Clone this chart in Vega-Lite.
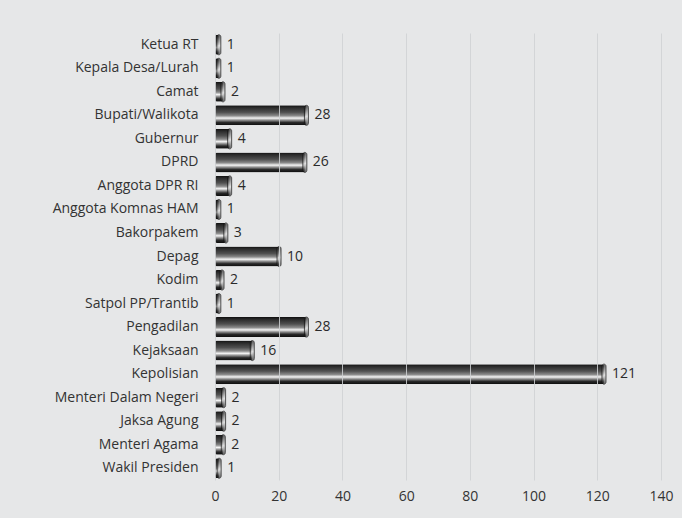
{
  "$schema": "https://vega.github.io/schema/vega-lite/v6.json",
  "width": 446,
  "height": 447,
  "autosize": {"type": "none"},
  "padding": {"left": 215, "top": 33, "right": 21, "bottom": 38},
  "background": "#e6e7e8",
  "config": {"view": {"stroke": null}, "font": "Open Sans"},
  "data": {
    "values": [
      {"lembaga": "Ketua RT", "jumlah": 1, "panjang": 1.2},
      {"lembaga": "Kepala Desa/Lurah", "jumlah": 1, "panjang": 1.2},
      {"lembaga": "Camat", "jumlah": 2, "panjang": 2.5},
      {"lembaga": "Bupati/Walikota", "jumlah": 28, "panjang": 28.7},
      {"lembaga": "Gubernur", "jumlah": 4, "panjang": 4.6},
      {"lembaga": "DPRD", "jumlah": 26, "panjang": 28.2},
      {"lembaga": "Anggota DPR RI", "jumlah": 4, "panjang": 4.6},
      {"lembaga": "Anggota Komnas HAM", "jumlah": 1, "panjang": 1.2},
      {"lembaga": "Bakorpakem", "jumlah": 3, "panjang": 3.4},
      {"lembaga": "Depag", "jumlah": 10, "panjang": 20.1},
      {"lembaga": "Kodim", "jumlah": 2, "panjang": 2.2},
      {"lembaga": "Satpol PP/Trantib", "jumlah": 1, "panjang": 1.2},
      {"lembaga": "Pengadilan", "jumlah": 28, "panjang": 28.7},
      {"lembaga": "Kejaksaan", "jumlah": 16, "panjang": 11.7},
      {"lembaga": "Kepolisian", "jumlah": 121, "panjang": 122.1},
      {"lembaga": "Menteri Dalam Negeri", "jumlah": 2, "panjang": 2.7},
      {"lembaga": "Jaksa Agung", "jumlah": 2, "panjang": 2.7},
      {"lembaga": "Menteri Agama", "jumlah": 2, "panjang": 2.6},
      {"lembaga": "Wakil Presiden", "jumlah": 1, "panjang": 1.3}
    ]
  },
  "encoding": {
    "y": {
      "field": "lembaga",
      "type": "nominal",
      "sort": null,
      "scale": {"paddingInner": 0.15},
      "axis": {
        "title": null,
        "ticks": false,
        "domain": false,
        "labelPadding": 17,
        "labelFontSize": 14,
        "labelColor": "#333333",
        "labelFont": "Open Sans"
      }
    }
  },
  "layer": [
    {
      "mark": {
        "type": "bar",
        "cornerRadius": 2,
        "color": {
          "gradient": "linear",
          "x1": 0, "y1": 0, "x2": 0, "y2": 1,
          "stops": [
            {"offset": 0, "color": "#0f0f0f"},
            {"offset": 0.1, "color": "#282828"},
            {"offset": 0.35, "color": "#505050"},
            {"offset": 0.52, "color": "#8a8a8a"},
            {"offset": 0.64, "color": "#f5f5f5"},
            {"offset": 0.73, "color": "#9a9a9a"},
            {"offset": 0.86, "color": "#282828"},
            {"offset": 1, "color": "#0d0d0d"}
          ]
        }
      },
      "encoding": {
        "x": {
          "field": "panjang",
          "type": "quantitative",
          "scale": {"domain": [0, 140], "nice": false},
          "axis": {
            "title": null,
            "values": [0, 20, 40, 60, 80, 100, 120, 140],
            "ticks": false,
            "domain": false,
            "zindex": 1,
            "grid": true,
            "gridColor": "#cfd1d3",
            "gridOpacity": 0.85,
            "labelFlush": false,
            "labelPadding": 9,
            "labelFontSize": 14,
            "labelColor": "#333333",
            "labelFont": "Open Sans"
          }
        }
      }
    },
    {
      "mark": {
        "type": "tick",
        "thickness": 4,
        "size": 20,
        "cornerRadius": 2,
        "stroke": "#111111",
        "strokeWidth": 1,
        "color": {
          "gradient": "linear",
          "x1": 0, "y1": 0, "x2": 0, "y2": 1,
          "stops": [
            {"offset": 0, "color": "#222222"},
            {"offset": 0.55, "color": "#e0e0e0"},
            {"offset": 1, "color": "#222222"}
          ]
        }
      },
      "encoding": {
        "x": {"field": "panjang", "type": "quantitative"}
      }
    },
    {
      "mark": {
        "type": "text",
        "align": "left",
        "baseline": "middle",
        "dx": 8,
        "fontSize": 14,
        "font": "Open Sans",
        "color": "#2a2a2a"
      },
      "encoding": {
        "x": {"field": "panjang", "type": "quantitative"},
        "text": {"field": "jumlah", "type": "nominal"}
      }
    }
  ]
}
